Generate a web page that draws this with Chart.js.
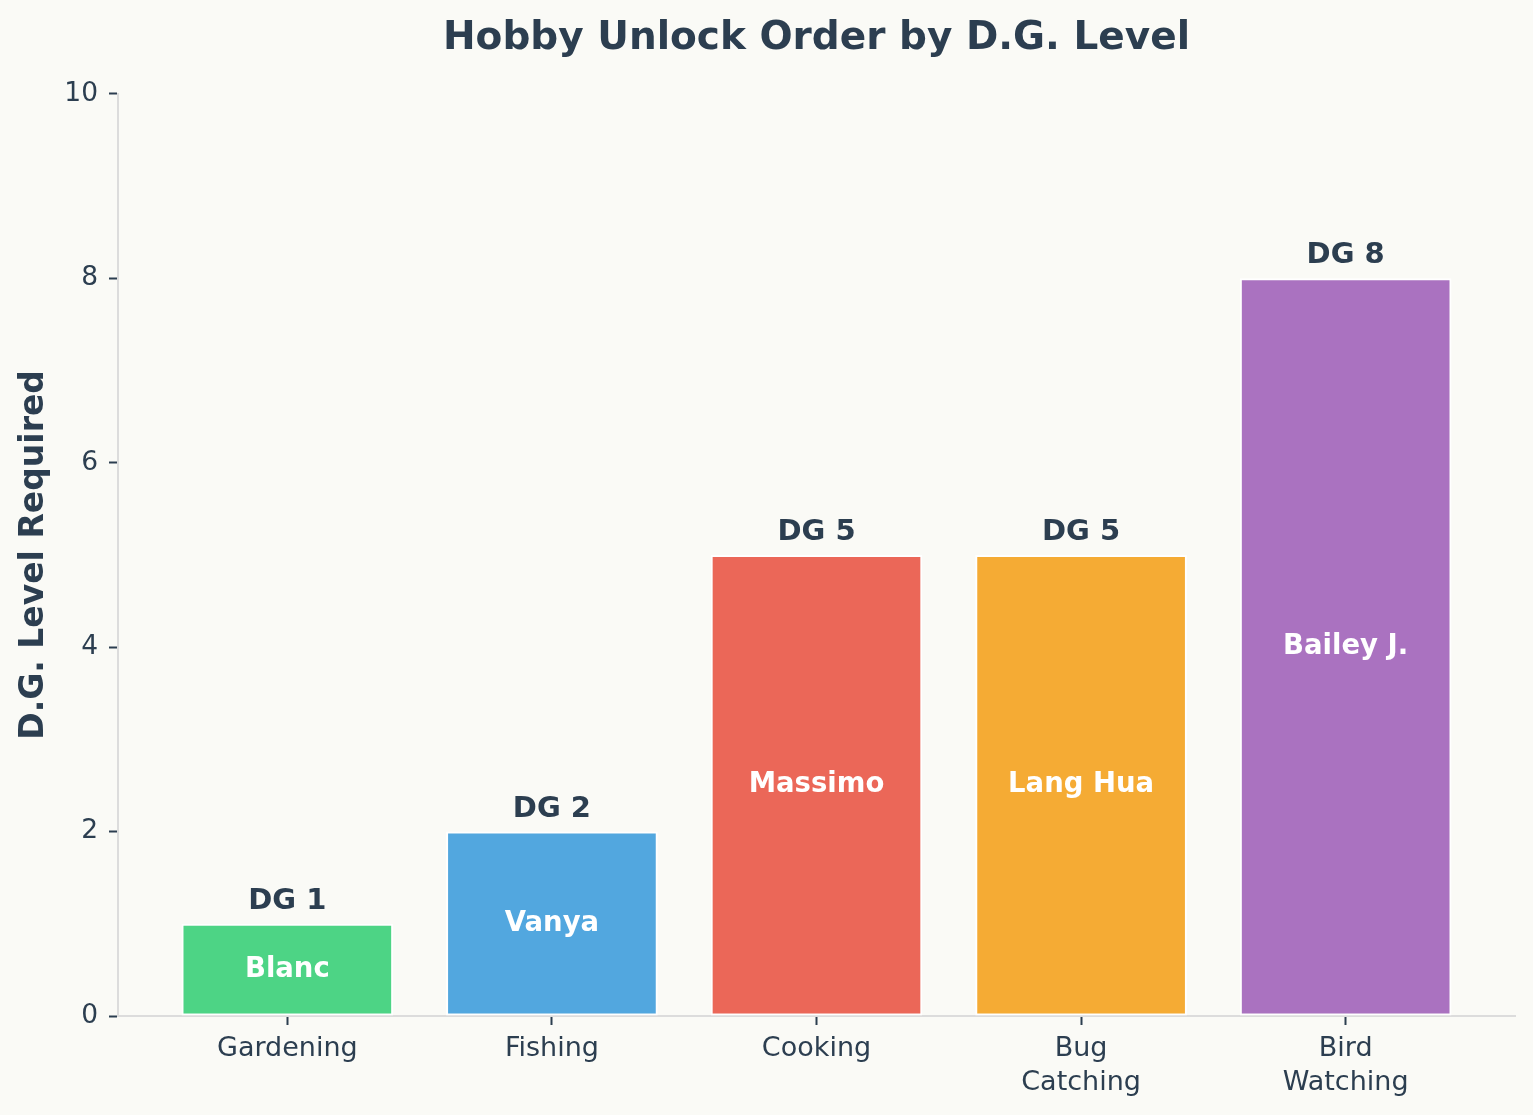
<!DOCTYPE html>
<html><head><meta charset="utf-8">
<script src="https://cdn.jsdelivr.net/npm/chart.js@4/dist/chart.umd.min.js"></script>
<style>
html,body{margin:0;padding:0;background:#fafaf6;}
#wrap{width:1533px;height:1115px;position:relative;}
</style>
</head><body>
<div id="wrap"><canvas id="c"></canvas></div>
<script>
const categories = ['Gardening', 'Fishing', 'Cooking', 'Bug\nCatching', 'Bird\nWatching'];
const levels = [1, 2, 5, 5, 8];
const villagers = ['Blanc', 'Vanya', 'Massimo', 'Lang Hua', 'Bailey J.'];
const levelLabels = ['DG 1', 'DG 2', 'DG 5', 'DG 5', 'DG 8'];
const barColors = ['rgba(46,204,113,0.85)', 'rgba(52,152,219,0.85)', 'rgba(231,76,60,0.85)', 'rgba(243,156,18,0.85)', 'rgba(155,89,182,0.85)'];
const yTicks = [0, 2, 4, 6, 8, 10];

const TEXT = '#2c3e50';
const FONT = 'DejaVu Sans';

const barLabels = {
  id: 'barLabels',
  afterDatasetsDraw(chart) {
    const ctx = chart.ctx;
    const meta = chart.getDatasetMeta(0);
    ctx.save();
    ctx.textAlign = 'center';
    meta.data.forEach((bar, i) => {
      ctx.fillStyle = TEXT;
      ctx.font = 'bold 29px "' + FONT + '"';
      ctx.textBaseline = 'alphabetic';
      ctx.fillText(levelLabels[i], bar.x, bar.y - 15);
      ctx.fillStyle = '#ffffff';
      ctx.font = 'bold 27.5px "' + FONT + '"';
      ctx.textBaseline = 'middle';
      ctx.fillText(villagers[i], bar.x, (bar.y + bar.base) / 2);
    });
    ctx.restore();
  }
};

new Chart(document.getElementById('c'), {
  type: 'bar',
  data: {
    datasets: [{
      data: levels.map((v, i) => ({x: i, y: v})),
      backgroundColor: barColors,
      borderColor: '#ffffff',
      borderWidth: 2,
      borderSkipped: false,
      barPercentage: 0.8,
      categoryPercentage: 1.0
    }]
  },
  options: {
    responsive: true,
    maintainAspectRatio: false,
    animation: false,
    layout: {padding: {left: 0, right: 18, top: 0, bottom: 0}},
    plugins: {
      legend: {display: false},
      tooltip: {enabled: false},
      title: {
        display: true,
        text: 'Hobby Unlock Order by D.G. Level',
        color: TEXT,
        fullSize: false,
        font: {family: FONT, size: 39, weight: 'bold', lineHeight: 1.2},
        padding: {top: 15, bottom: 32}
      }
    },
    scales: {
      x: {
        type: 'linear',
        min: -0.64,
        max: 4.64,
        offset: false,
        afterFit(s) { s.height = 99; },
        ticks: {
          stepSize: 1,
          includeBounds: false,
          autoSkip: false,
          maxRotation: 0,
          minRotation: 0,
          padding: 7,
          color: TEXT,
          font: {family: FONT, size: 27, lineHeight: 1.25},
          callback(v) {
            if (!Number.isInteger(v) || !categories[v]) return '';
            return categories[v].split('\n');
          }
        },
        grid: {offset: false, drawOnChartArea: false, drawTicks: true, tickLength: 9, tickColor: TEXT, tickWidth: 2},
        border: {display: true, color: '#dcdcdc', width: 2}
      },
      y: {
        min: 0,
        max: 10,
        afterFit(s) { s.width = 118; },
        afterBuildTicks(s) { s.ticks = yTicks.map(v => ({value: v})); },
        ticks: {
          stepSize: 2,
          padding: 11,
          color: TEXT,
          font: {family: FONT, size: 26.5}
        },
        grid: {drawOnChartArea: false, drawTicks: true, tickLength: 9, tickColor: TEXT, tickWidth: 2},
        border: {display: true, color: '#dcdcdc', width: 2},
        title: {
          display: true,
          text: 'D.G. Level Required',
          color: TEXT,
          font: {family: FONT, size: 33, weight: 'bold', lineHeight: 1.2},
          padding: {top: 15, bottom: 0}
        }
      }
    }
  },
  plugins: [barLabels]
});
</script>
</body></html>
